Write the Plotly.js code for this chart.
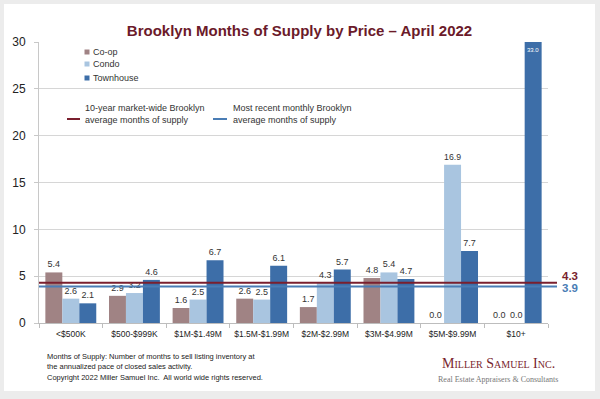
<!DOCTYPE html>
<html>
<head>
<meta charset="utf-8">
<script src="https://cdn.plot.ly/plotly-3.0.1.min.js"></script>
<style>
  html, body { margin: 0; padding: 0; background: #ececec; width: 600px; height: 399px; overflow: hidden; }
  #chart { position: absolute; left: 4px; top: 4px; width: 591px; height: 387px; background: #ffffff; }
</style>
</head>
<body>
<div id="chart"></div>
<script>
// ---- Data ----
const categories = ['<$500K', '$500-$999K', '$1M-$1.49M', '$1.5M-$1.99M', '$2M-$2.99M', '$3M-$4.99M', '$5M-$9.99M', '$10+'];
const seriesNames = ['Co-op', 'Condo', 'Townhouse'];
const coopValues = [5.4, 2.9, 1.6, 2.6, 1.7, 4.8, 0.0, 0.0];
const condoValues = [2.6, 3.2, 2.5, 2.5, 4.3, 5.4, 16.9, 0.0];
const townhouseValues = [2.1, 4.6, 6.7, 6.1, 5.7, 4.7, 7.7, 33.0];
const yTickValues = [0, 5, 10, 15, 20, 25, 30];
const yRange = [0, 30];
const refLineNames = ['10-year market-wide Brooklyn<br>average months of supply', 'Most recent monthly Brooklyn<br>average months of supply'];
const refLineValues = [4.3, 3.9];

// ---- Styles ----
const colors = ['#a08384', '#a9c5e0', '#3d6ea8'];
const refColors = ['#7a1f2e', '#4a7db5'];
const FONT = 'Arial, "Liberation Sans", sans-serif';
const SERIF = '"Liberation Serif", "DejaVu Serif", serif';

const allValues = [coopValues, condoValues, townhouseValues];
const traces = allValues.map((vals, i) => {
  const txt = vals.map(v => (v > yRange[1] ? '' : v.toFixed(1)));
  return {
    type: 'bar',
    name: seriesNames[i],
    x: categories,
    y: vals,
    text: txt,
    textposition: 'outside',
    texttemplate: '%{text}',
    textfont: { family: FONT, size: 9, color: '#333333' },
    cliponaxis: false,
    marker: { color: colors[i] },
    showlegend: false,
    hoverinfo: 'x+y+name'
  };
});

// convert page pixels to paper fractions (plot area 39..548 x, 42..323 y)
const PX0 = 39, PW = 509, PY0 = 323, PH = 281;
const px = X => (X - PX0) / PW;
const py = Y => (PY0 - Y) / PH;

const shapes = [];
const annotations = [];

// reference lines
refLineValues.forEach((v, i) => {
  shapes.push({
    type: 'line', layer: 'above',
    xref: 'paper', x0: 0, x1: px(557),
    yref: 'y', y0: v, y1: v,
    line: { color: refColors[i], width: 2 }
  });
  annotations.push({
    xref: 'paper', x: px(560), xanchor: 'left',
    yref: 'y', y: v, yanchor: 'middle', yshift: i === 0 ? 7 : -2,
    text: v.toFixed(1), showarrow: false,
    font: { family: FONT, size: 11.5, color: refColors[i], weight: 'bold' }
  });
});

// legend: series squares
const legendY = [52, 64, 78];
seriesNames.forEach((n, i) => {
  shapes.push({
    type: 'rect', xref: 'paper', yref: 'paper',
    xsizemode: 'pixel', ysizemode: 'pixel',
    xanchor: px(87), yanchor: py(legendY[i]),
    x0: -2.5, x1: 2.5, y0: -2.5, y1: 2.5,
    fillcolor: colors[i], line: { width: 0 }
  });
  annotations.push({
    xref: 'paper', x: px(90.5), xanchor: 'left',
    yref: 'paper', y: py(legendY[i]), yanchor: 'middle',
    text: n, showarrow: false,
    font: { family: FONT, size: 9, color: '#333333' }
  });
});

// legend: reference lines
const refLegendX = [[67, 80, 83], [213, 227, 231]];
refLineNames.forEach((n, i) => {
  shapes.push({
    type: 'line', xref: 'paper', yref: 'paper',
    x0: px(refLegendX[i][0]), x1: px(refLegendX[i][1]),
    y0: py(119), y1: py(119),
    line: { color: refColors[i], width: 2 }
  });
  annotations.push({
    xref: 'paper', x: px(refLegendX[i][2]), xanchor: 'left',
    yref: 'paper', y: py(113.5), yanchor: 'middle', align: 'left',
    text: n, showarrow: false,
    font: { family: FONT, size: 9, color: '#333333' }
  });
});

// clipped bar label (value above axis range)
townhouseValues.forEach((v, j) => {
  if (v > yRange[1]) {
    annotations.push({
      xref: 'x', x: categories[j], xshift: 17,
      yref: 'y', y: yRange[1], yanchor: 'top', yshift: -3,
      text: v.toFixed(1), showarrow: false,
      font: { family: FONT, size: 6, color: '#ffffff' }
    });
  }
});

// footer notes
annotations.push({
  xref: 'paper', x: px(45), xanchor: 'left',
  yref: 'paper', y: py(362), yanchor: 'middle', align: 'left',
  text: 'Months of Supply: Number of months to sell listing inventory at<br>the annualized pace of closed sales activity.',
  showarrow: false,
  font: { family: FONT, size: 7.5, color: '#222222' }
});
annotations.push({
  xref: 'paper', x: px(45), xanchor: 'left',
  yref: 'paper', y: py(377), yanchor: 'middle', align: 'left',
  text: 'Copyright 2022 Miller Samuel Inc.  All world wide rights reserved.',
  showarrow: false,
  font: { family: FONT, size: 7.5, color: '#222222' }
});
// logo
annotations.push({
  xref: 'paper', x: px(498), xanchor: 'center',
  yref: 'paper', y: py(363), yanchor: 'middle',
  text: 'Miller Samuel Inc.',
  showarrow: false,
  font: { family: SERIF, size: 14, color: '#7a1f2e', variant: 'small-caps' }
});
annotations.push({
  xref: 'paper', x: px(498), xanchor: 'center',
  yref: 'paper', y: py(379), yanchor: 'middle',
  text: 'Real Estate Appraisers & Consultants',
  showarrow: false,
  font: { family: SERIF, size: 8, color: '#777777' }
});

const layout = {
  width: 591, height: 387,
  margin: { l: 35, r: 47, t: 38, b: 68, pad: 0 },
  paper_bgcolor: '#ffffff',
  plot_bgcolor: '#ffffff',
  title: {
    text: 'Brooklyn Months of Supply by Price \u2013 April 2022',
    font: { family: FONT, size: 15, color: '#6b1a2a', weight: 'bold' },
    x: 0.5, xref: 'container', xanchor: 'center',
    y: 1 - 27 / 387, yref: 'container', yanchor: 'middle'
  },
  barmode: 'group',
  bargap: 0.2,
  bargroupgap: 0,
  showlegend: false,
  xaxis: {
    type: 'category',
    categoryorder: 'array', categoryarray: categories,
    showline: true, linecolor: '#bdbdbd', linewidth: 1,
    ticks: 'outside', tickson: 'boundaries', ticklen: 4, tickcolor: '#bdbdbd',
    tickangle: 0,
    ticklabelstandoff: 3,
    tickfont: { family: FONT, size: 8.5, color: '#222222' },
    showgrid: false, zeroline: false
  },
  yaxis: {
    range: yRange,
    tickvals: yTickValues,
    ticktext: yTickValues.map(String),
    showline: true, linecolor: '#c8c8c8', linewidth: 1,
    ticks: 'outside', ticklen: 4, tickcolor: '#c8c8c8',
    ticklabelstandoff: 6,
    tickfont: { family: FONT, size: 12, color: '#222222' },
    showgrid: true, gridcolor: '#d6d6d6', gridwidth: 1,
    zeroline: false
  },
  shapes: shapes,
  annotations: annotations
};

Plotly.newPlot('chart', traces, layout, { displayModeBar: false, staticPlot: true });
</script>
</body>
</html>
